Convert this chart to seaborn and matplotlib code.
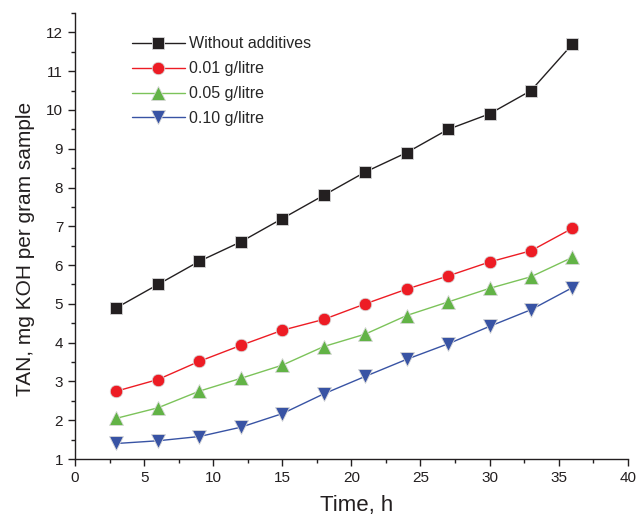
import matplotlib
matplotlib.use("Agg")
import matplotlib.pyplot as plt
import seaborn as sns
import pandas as pd
from matplotlib.ticker import MultipleLocator

time_h = [3, 6, 9, 12, 15, 18, 21, 24, 27, 30, 33, 36]
without_additives = [4.9, 5.5, 6.1, 6.6, 7.2, 7.8, 8.4, 8.9, 9.5, 9.9, 10.5, 11.7]
g001 = [2.75, 3.05, 3.52, 3.93, 4.32, 4.6, 5.0, 5.38, 5.72, 6.08, 6.37, 6.95]
g005 = [2.05, 2.32, 2.75, 3.08, 3.42, 3.9, 4.22, 4.7, 5.05, 5.4, 5.7, 6.2]
g010 = [1.4, 1.47, 1.58, 1.82, 2.17, 2.68, 3.13, 3.57, 3.97, 4.42, 4.85, 5.42]
labels = ["Without additives", "0.01 g/litre", "0.05 g/litre", "0.10 g/litre"]

sns.set_theme(style="ticks")
plt.rcParams['font.family'] = ['Liberation Sans', 'DejaVu Sans']

fig = plt.figure(figsize=(6.36, 5.21), dpi=100)
ax = fig.add_axes([0.118, 0.119, 0.869, 0.856])

series = [without_additives, g001, g005, g010]
colors = ["#231f20", "#ed1c24", "#62b346", "#3853a4"]
linecolors = ["#231f20", "#ed1c24", "#7cc35a", "#3853a4"]
markers = ["s", "o", "^", "v"]
msizes = [8, 9, 9.5, 9.5]

for vals, lab, c, lc, m, ms in zip(series, labels, colors, linecolors, markers, msizes):
    df = pd.DataFrame({"Time": time_h, "TAN": vals})
    sns.lineplot(data=df, x="Time", y="TAN", ax=ax, color=lc, marker=m,
                 markersize=ms, markerfacecolor=c, markeredgecolor="#d8d8d8",
                 markeredgewidth=0.6, linewidth=1.0, label=lab)

ax.set_xlim(0, 40)
ax.set_ylim(1, 12.5)
ax.xaxis.set_major_locator(MultipleLocator(5))
ax.xaxis.set_minor_locator(MultipleLocator(2.5))
ax.yaxis.set_major_locator(MultipleLocator(1))
ax.yaxis.set_minor_locator(MultipleLocator(0.5))
ax.tick_params(which="major", direction="out", length=5, width=1, labelsize=11, colors="#231f20")
ax.tick_params(which="minor", direction="out", length=3, width=1, colors="#231f20")
for s in ["top", "right"]:
    ax.spines[s].set_visible(False)
for s in ["left", "bottom"]:
    ax.spines[s].set_color("#231f20")
    ax.spines[s].set_linewidth(1)

ax.set_xlabel("Time, h", fontsize=16, color="#231f20")
ax.set_ylabel("TAN, mg KOH per gram sample", fontsize=15, color="#231f20")
ax.xaxis.set_label_coords(0.51, -0.08, transform=ax.transAxes)
ax.yaxis.set_label_coords(-0.072, 0.47, transform=ax.transAxes)
ax.xaxis.label.set_va("top")

leg = ax.legend(loc="upper left", bbox_to_anchor=(0.077, 0.98), frameon=False,
                fontsize=11.5, handlelength=3.3, handletextpad=0.3, labelspacing=0.62)

fig.savefig("out.png", dpi=100)
